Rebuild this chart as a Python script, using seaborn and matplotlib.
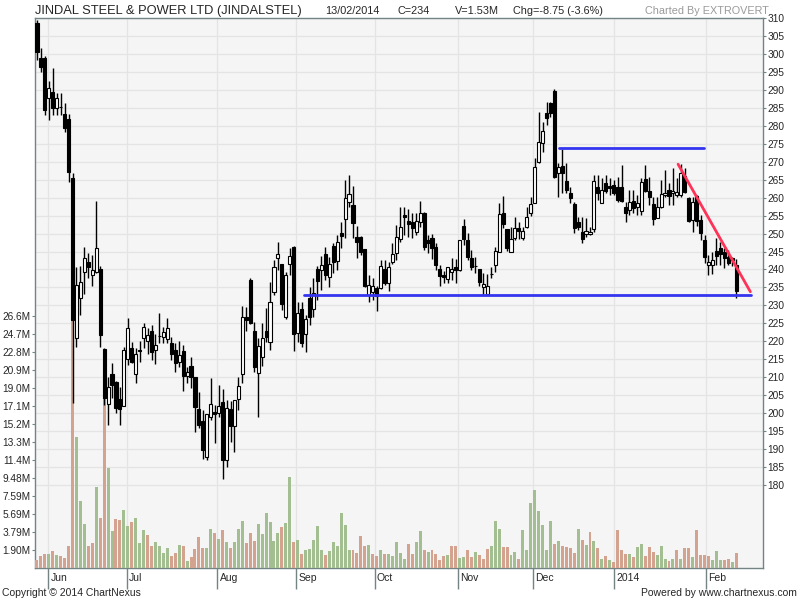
import numpy as np
import matplotlib
matplotlib.use("Agg")
import matplotlib.pyplot as plt
import matplotlib.transforms as mtransforms
import seaborn as sns
from matplotlib import font_manager

# daily prices, late May 2013 .. 13 Feb 2014
opens = [308.6, 298.9, 298.9, 287.7, 289.4, 285.0, 285.3, 283.3, 282.0, 265.5,
         220.9, 232.0, 239.3, 242.0, 238.4, 239.3, 240.0, 217.8, 202.5, 210.9,
         208.7, 203.9, 202.0, 215.0, 218.0, 210.9, 217.6, 221.0, 220.0, 223.0,
         217.5, 221.6, 221.2, 220.6, 219.5, 217.6, 214.2, 217.3, 210.3, 213.1,
         210.0, 201.1, 197.8, 187.8, 198.9, 200.2, 200.0, 203.0, 187.0, 201.1,
         196.4, 203.9, 210.9, 226.8, 237.0, 222.9, 211.2, 215.6, 223.0, 219.9,
         233.7, 243.2, 241.5, 226.8, 241.5, 246.2, 222.3, 229.0, 222.0, 232.0,
         229.0, 240.0, 239.8, 244.3, 237.9, 246.5, 242.3, 250.1, 254.0, 258.8,
         258.0, 249.0, 249.0, 245.6, 232.9, 233.7, 234.8, 234.8, 240.0, 236.2,
         242.0, 244.6, 248.5, 255.2, 253.5, 253.2, 250.4, 253.2, 255.7, 248.2,
         248.8, 246.2, 240.0, 238.4, 237.3, 239.2, 240.7, 239.8, 252.0, 248.2,
         243.2, 241.1, 240.0, 235.2, 233.2, 238.8, 241.2, 245.0, 255.7, 251.2,
         245.0, 248.8, 251.5, 248.8, 251.8, 255.7, 258.5, 270.0, 275.2, 283.6,
         286.3, 289.7, 266.8, 268.8, 264.6, 261.3, 258.2, 253.2, 250.4, 249.9,
         249.9, 251.3, 263.0, 258.5, 264.0, 263.2, 263.5, 263.0, 263.0, 257.4,
         256.6, 259.0, 257.4, 256.3, 265.2, 261.8, 258.2, 254.3, 257.4, 260.7,
         262.1, 261.3, 260.7, 260.7, 266.0, 260.0, 253.8, 260.4, 253.8, 248.2,
         241.2, 241.2, 245.1, 246.0, 244.8, 243.5, 243.2, 241.2]
highs = [309.5, 301.6, 299.5, 292.5, 296.0, 289.1, 289.0, 286.3, 283.3, 266.8,
         240.7, 241.0, 246.2, 244.6, 244.0, 259.0, 241.0, 218.0, 210.0, 214.0,
         209.0, 207.3, 218.5, 226.5, 219.8, 218.0, 220.0, 225.1, 223.7, 224.5,
         222.0, 227.9, 224.0, 226.5, 221.2, 219.5, 220.1, 219.0, 212.8, 215.6,
         210.2, 205.9, 200.9, 199.9, 209.8, 202.3, 207.8, 206.7, 203.7, 203.5,
         203.6, 210.0, 229.8, 229.5, 237.5, 225.4, 221.0, 225.1, 229.3, 236.5,
         242.6, 247.6, 241.6, 239.3, 246.0, 246.5, 231.0, 231.0, 227.3, 235.1,
         237.6, 241.0, 243.7, 246.2, 243.5, 247.4, 249.6, 253.2, 265.0, 266.3,
         263.2, 252.1, 249.2, 245.8, 238.5, 237.6, 235.4, 242.6, 242.6, 242.0,
         247.4, 252.4, 257.4, 257.4, 256.8, 255.7, 255.7, 259.0, 255.9, 249.6,
         249.9, 247.4, 241.2, 239.6, 240.8, 243.2, 242.9, 248.3, 254.0, 250.1,
         245.4, 243.5, 240.1, 239.0, 238.8, 240.7, 246.2, 258.5, 260.4, 251.3,
         251.8, 254.6, 253.2, 251.8, 257.4, 260.2, 271.0, 283.8, 281.0, 286.6,
         286.6, 290.2, 269.6, 273.5, 269.6, 263.0, 258.8, 254.6, 254.6, 254.3,
         251.8, 266.3, 266.3, 265.5, 266.3, 265.5, 265.0, 265.8, 269.1, 258.8,
         262.1, 262.1, 260.7, 265.5, 269.1, 265.8, 260.2, 260.2, 265.0, 267.7,
         264.0, 268.2, 265.5, 269.4, 268.2, 260.2, 260.2, 260.6, 255.2, 249.6,
         244.0, 244.9, 248.8, 247.6, 246.0, 245.5, 243.5, 242.9]
lows = [298.3, 295.0, 283.0, 281.6, 283.0, 283.0, 283.0, 278.3, 264.3, 202.8,
        218.4, 227.3, 233.2, 237.6, 235.5, 239.0, 218.4, 202.3, 196.7, 204.2,
        200.0, 196.7, 202.0, 213.4, 214.0, 208.4, 214.2, 218.1, 216.5, 214.8,
        213.7, 219.5, 219.5, 219.5, 214.8, 211.4, 212.8, 206.2, 208.4, 207.0,
        194.8, 195.9, 187.2, 186.9, 198.1, 191.7, 198.9, 181.7, 185.0, 192.0,
        189.2, 200.9, 208.4, 222.9, 224.8, 211.4, 198.9, 213.1, 219.8, 217.6,
        232.9, 239.8, 228.7, 226.2, 238.5, 217.3, 219.8, 218.4, 217.0, 224.5,
        226.8, 231.5, 234.3, 237.0, 235.1, 239.0, 239.8, 246.0, 248.8, 257.4,
        248.8, 243.2, 244.0, 235.2, 231.0, 231.5, 228.4, 234.6, 235.8, 234.0,
        241.5, 242.6, 247.6, 249.6, 249.0, 248.8, 249.6, 251.8, 245.4, 244.6,
        242.9, 239.8, 235.4, 236.2, 236.2, 237.1, 236.2, 239.6, 246.8, 242.6,
        239.8, 239.0, 235.4, 232.9, 233.1, 237.6, 239.3, 244.8, 251.5, 245.1,
        244.8, 248.2, 248.5, 248.2, 251.5, 254.9, 258.4, 269.6, 272.7, 280.2,
        282.4, 265.5, 260.2, 261.3, 261.3, 258.5, 250.1, 251.0, 247.4, 249.0,
        249.6, 250.4, 259.3, 258.5, 261.3, 260.7, 260.7, 258.8, 258.8, 253.2,
        255.2, 255.7, 255.2, 255.2, 261.6, 257.9, 252.4, 254.2, 257.1, 260.2,
        257.9, 257.9, 260.2, 260.2, 261.3, 253.2, 250.4, 252.1, 248.2, 241.8,
        238.5, 238.7, 241.2, 241.2, 240.4, 241.2, 241.0, 232.1]
closes = [300.5, 296.4, 284.4, 290.5, 285.0, 287.7, 285.1, 279.4, 267.0, 226.0,
          235.7, 236.5, 243.2, 240.7, 239.8, 246.0, 221.7, 204.2, 207.3, 207.8,
          201.4, 201.1, 217.6, 223.7, 214.2, 216.4, 217.3, 224.0, 221.8, 217.0,
          219.0, 221.4, 222.6, 223.7, 216.4, 214.0, 216.2, 210.3, 211.4, 210.0,
          201.7, 196.7, 189.7, 199.8, 202.5, 199.9, 202.0, 187.0, 201.4, 196.4,
          203.6, 207.5, 226.8, 226.0, 225.0, 212.8, 218.7, 221.0, 221.2, 231.0,
          240.7, 244.3, 230.4, 238.4, 243.7, 222.0, 227.9, 219.5, 226.2, 226.8,
          233.4, 236.8, 241.2, 238.4, 241.5, 242.0, 247.6, 249.3, 260.0, 261.0,
          253.0, 247.6, 244.8, 235.4, 235.7, 235.4, 232.6, 241.0, 236.2, 240.7,
          244.3, 249.0, 251.8, 254.6, 252.6, 251.5, 253.5, 255.7, 246.2, 247.4,
          246.0, 241.2, 238.2, 237.9, 240.7, 240.0, 239.8, 248.2, 248.5, 243.5,
          240.7, 240.9, 236.5, 236.0, 235.4, 238.6, 245.0, 255.4, 252.6, 246.0,
          248.5, 251.5, 250.7, 250.7, 254.6, 258.2, 268.5, 275.5, 278.5, 282.2,
          283.6, 265.7, 268.5, 266.8, 262.0, 260.0, 251.5, 251.8, 248.5, 250.7,
          250.4, 264.6, 261.3, 262.1, 261.8, 262.7, 261.3, 259.3, 259.0, 255.7,
          258.8, 257.1, 258.5, 264.3, 261.8, 260.2, 254.0, 257.4, 261.0, 261.3,
          260.4, 261.8, 261.5, 266.8, 261.5, 253.5, 258.8, 253.5, 250.1, 243.5,
          242.0, 242.6, 243.7, 244.3, 243.2, 241.8, 242.7, 234.0]
# volume, millions of shares
volumes = [0.84, 1.26, 1.48, 1.48, 1.83, 1.33, 1.26, 1.09, 2.32, 27.5,
           13.84, 7.06, 4.64, 2.32, 2.6, 8.5, 5.23, 18.0, 10.5, 3.93,
           5.16, 5.06, 6.11, 4.43, 4.88, 5.23, 2.6, 4.0, 3.48, 2.32,
           2.77, 2.32, 1.55, 2.07, 1.26, 1.62, 2.42, 2.32, 0.74, 1.19,
           1.97, 3.23, 2.07, 2.07, 4.07, 3.72, 3.02, 4.0, 2.74, 2.07,
           2.74, 4.07, 4.99, 2.6, 3.65, 2.88, 4.64, 3.58, 5.83, 4.88,
           2.88, 3.65, 4.36, 4.78,
           9.59, 2.7, 2.99, 1.51, 1.86, 2.04, 2.99, 4.39, 1.93, 1.4,
           1.76, 2.7, 2.28, 5.76, 4.5, 1.93, 1.86, 1.55, 3.34, 2.35,
           2.46, 1.51, 1.23, 1.93, 1.48, 1.48, 1.23, 2.7, 1.58, 0.98,
           2.56, 1.51, 2.7, 3.86, 1.93, 1.65, 1.86, 1.51, 0.88, 1.3,
           1.4, 2.28, 2.35, 1.05, 1.16, 1.93, 1.12, 1.65, 1.4, 0.98,
           2.04, 2.35, 4.92, 4.14, 2.21, 2.21, 1.4, 1.65, 0.98, 4.04,
           1.86, 6.81, 8.25, 5.97, 4.57, 1.93, 4.99, 2.56, 2.88, 2.35,
           2.21, 2.11, 1.58, 4.14, 2.99, 2.46, 3.83, 2.88, 2.11, 0.98,
           1.3, 0.81, 0.6, 4.04, 1.86, 1.51, 1.51, 1.12, 2.21, 2.56,
           1.23, 2.21, 1.65, 1.4, 2.35, 0.98, 0.7, 0.98, 1.93, 0.98,
           2.11, 2.11, 1.12, 4.04, 1.4, 1.4, 1.3, 0.81, 1.76, 0.88,
           0.81, 0.95, 0.6, 1.53]

month_labels = ["Jun", "Jul", "Aug", "Sep", "Oct", "Nov", "Dec", "2014", "Feb"]
month_pos = [2.9, 22.7, 45.7, 65.6, 85.5, 106.5, 125.5, 146.2, 169.3]

price_ticks = list(range(180, 311, 5))
vol_step = 1.8966
vol_ticks = [vol_step * k for k in range(1, 15)]

# hand drawn lines (day index, price)
support = ([67.6, 180.8], [232.9, 232.9])
resistance = ([132.2, 168.9], [273.7, 273.7])
trendline = ([162.3, 180.6], [269.3, 233.8])

title = "JINDAL STEEL & POWER LTD (JINDALSTEL)"
info = [("13/02/2014", 325), ("C=234", 398), ("V=1.53M", 455), ("Chg=-8.75 (-3.6%)", 513)]

sns.set_style("white")
names = {f.name for f in font_manager.fontManager.ttflist}
narrow = "Liberation Sans Narrow" if "Liberation Sans Narrow" in names else None
plt.rcParams["font.family"] = ["Liberation Sans", "DejaVu Sans"]
if narrow:
    head_font = dict(family=[narrow, "DejaVu Sans"], size_title=10.5)
else:
    head_font = dict(family=["Liberation Sans", "DejaVu Sans"], size_title=9.3)

n = len(closes)
idx = np.arange(n)
o = np.array(opens); c = np.array(closes)
prev = np.concatenate([[opens[0]], closes[:-1]])
direction = np.where(c >= prev, "up", "down")

W, H = 800, 600
rect = [35 / W, 32 / H, 728 / W, 550 / H]
price_lo = 310 - 550 / (467 / 130)
vol_top = 550 / 18 * vol_step
border = "#748484"
grid = "#e4e4e4"

fig = plt.figure(figsize=(8, 6), dpi=100)
ax_bg = fig.add_axes(rect)
ax_vol = fig.add_axes(rect, sharex=ax_bg)
ax = fig.add_axes(rect, sharex=ax_bg)

# background + grid
ax_bg.set_facecolor("#f5f5f5")
ax_bg.set_ylim(price_lo, 310)
ax_bg.hlines(price_ticks, -1, n + 10, color=grid, linewidth=0.9)
ax_bg.vlines(month_pos, price_lo, 310, color=grid, linewidth=0.9)
ax_bg.set_xticks([]); ax_bg.set_yticks([])
for s in ax_bg.spines.values():
    s.set_color(border)
    s.set_linewidth(1.0)

# volume bars
sns.barplot(x=idx, y=volumes, hue=direction, palette={"up": "#a3bf91", "down": "#d4a38f"},
            native_scale=True, width=0.75, saturation=1, linewidth=0, legend=False,
            dodge=False, errorbar=None, ax=ax_vol)
ax_vol.set_facecolor("none")
ax_vol.set_ylim(0, vol_top)
ax_vol.set_yticks(vol_ticks)
ax_vol.set_yticklabels([f"{v:.2f}M" if v < 10 else f"{v:.1f}M" for v in vol_ticks])
ax_vol.tick_params(axis="y", left=True, length=2, width=0.8, color=border, pad=1, labelsize=7.3)
ax_vol.tick_params(axis="x", bottom=False, labelbottom=False)
ax_vol.set_xlabel(""); ax_vol.set_ylabel("")
for s in ax_vol.spines.values():
    s.set_visible(False)

# candles
ax.set_facecolor("none")
ax.vlines(idx, lows, highs, color="black", linewidth=1.0, zorder=3)
up = c >= o
body = np.maximum(np.abs(c - o), 0.15)
ax.bar(idx[up], body[up], bottom=o[up], width=0.78, color="white", edgecolor="black",
       linewidth=0.8, zorder=4)
ax.bar(idx[~up], body[~up], bottom=c[~up], width=0.78, color="black", edgecolor="black",
       linewidth=0.8, zorder=4)

ax.plot(*support, color="#3535f0", linewidth=2.0, zorder=5)
ax.plot(*resistance, color="#3535f0", linewidth=2.0, zorder=5)
ax.plot(*trendline, color="#ff3358", linewidth=2.0, zorder=5)

ax.set_xlim(-0.5, 183.8)
ax.set_ylim(price_lo, 310)
ax.yaxis.tick_right()
ax.set_yticks(price_ticks)
ax.set_yticklabels([str(p) for p in price_ticks])
ax.tick_params(axis="y", right=True, left=False, length=2, width=0.8, color=border, pad=1, labelsize=7.3)
ax.set_xticks(month_pos)
ax.set_xticklabels([])
ax.tick_params(axis="x", bottom=True, length=15, width=1.0, color=border, direction="out")
for s in ax.spines.values():
    s.set_visible(False)

lab_tr = mtransforms.offset_copy(ax.get_xaxis_transform(), fig=fig, x=2, y=-10, units="dots")
for lab, pos in zip(month_labels, month_pos):
    ax.text(pos, 0, lab, transform=lab_tr, ha="left", va="center", fontsize=7.5)

# header / footer
fig.text(35 / W, 1 - 11 / H, title, family=head_font["family"], fontsize=head_font["size_title"],
         ha="left", va="center")
for txt, x in info:
    fig.text(x / W, 1 - 11 / H, txt, family=head_font["family"], fontsize=7.8,
             ha="left", va="center")
fig.text(645 / W, 1 - 11 / H, "Charted By EXTROVERT", family=head_font["family"],
         fontsize=7.8, color="#9a9a9a", ha="left", va="center")
fig.text(2 / W, 1 - 593 / H, "Copyright © 2014 ChartNexus", fontsize=7.5,
         ha="left", va="center")
fig.text(797 / W, 1 - 593 / H, "Powered by www.chartnexus.com", fontsize=7.5,
         ha="right", va="center")

fig.savefig("out.png", dpi=100, facecolor="white")
